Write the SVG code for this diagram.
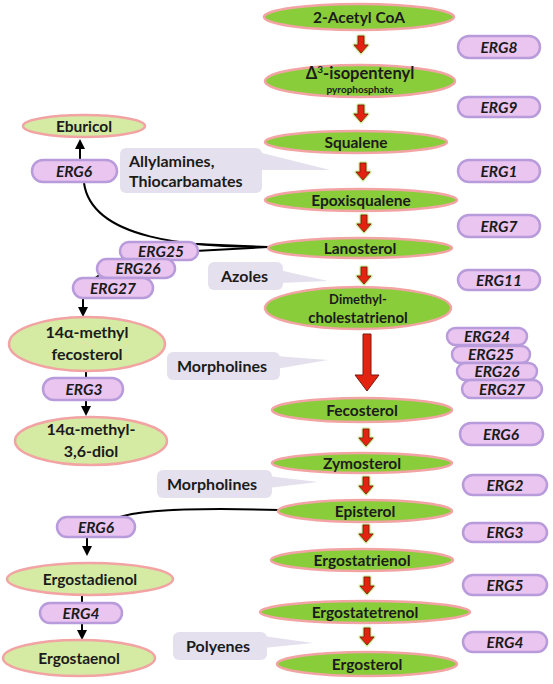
<svg xmlns="http://www.w3.org/2000/svg" width="553" height="684" viewBox="0 0 553 684">
<defs>
<style>
.main{fill:#8acd3a;stroke:#f2a3a3;stroke-width:2.5}
.side{fill:#d5eaa2;stroke:#f2a3a3;stroke-width:2.5}
.pill{fill:#eac5ef;stroke:#b89bdb;stroke-width:2.5}
.call{fill:#e5e0ed}
.t{font-family:Lato,"Open Sans","Liberation Sans",sans-serif;font-weight:bold;fill:#1b1b1b;text-anchor:middle}
.e{font-family:Lato,"Open Sans","Liberation Sans",sans-serif;font-weight:bold;font-style:italic;fill:#1b1b1b;text-anchor:middle;font-size:15.5px}
.c{font-family:Lato,"Open Sans","Liberation Sans",sans-serif;font-weight:bold;fill:#1b1b1b;font-size:16px}
.ln{fill:none;stroke:#000;stroke-width:2}
</style>
<marker id="ah" viewBox="0 0 10 10" refX="8" refY="5" markerWidth="5" markerHeight="5" orient="auto">
<path d="M0,0 L10,5 L0,10 z" fill="#000"/>
</marker>
<g id="ra">
<path d="M-3,0 L3,0 L3,9 L7,9 L0,17 L-7,9 L-3,9 z" fill="#b9e07a" stroke="#c8e890" stroke-width="3" stroke-linejoin="round"/>
<path d="M-3,0 L3,0 L3,9 L7,9 L0,17 L-7,9 L-3,9 z" fill="#e3220f" stroke="#7a1a10" stroke-width="0.8"/>
</g>
</defs>

<g id="callouts">
<g id="c-allyl"><rect class="call" x="120" y="148" width="142" height="45" rx="6"/><polygon class="call" points="258,152 330,170 258,170"/>
<text class="c" x="129" y="167">Allylamines,</text><text class="c" x="129" y="187">Thiocarbamates</text></g>
<g id="c-azoles"><rect class="call" x="208" y="262" width="75" height="28" rx="6"/><polygon class="call" points="279,270 328,281 279,283"/>
<text class="c" x="221" y="282">Azoles</text></g>
<g id="c-morph1"><rect class="call" x="167" y="352" width="113" height="28" rx="6"/><polygon class="call" points="276,356 328,360 276,369"/>
<text class="c" x="177" y="372">Morpholines</text></g>
<g id="c-morph2"><rect class="call" x="157" y="470" width="115" height="28" rx="6"/><polygon class="call" points="268,476 318,482 268,488"/>
<text class="c" x="167" y="490">Morpholines</text></g>
<g id="c-poly"><rect class="call" x="173" y="632" width="94" height="28" rx="6"/><polygon class="call" points="263,636 313,643 263,648"/>
<text class="c" x="186" y="652">Polyenes</text></g>
</g>

<g id="connectors">
<path class="ln" d="M268,247 C190,247 92,240 84,183"/>
<path class="ln" d="M268,247 L195,244"/>
<path class="ln" d="M268,247 L195,251"/>
<path class="ln" d="M125,256 L90,282"/>
<path class="ln" d="M80,160 L80,141" marker-end="url(#ah)"/>
<path class="ln" d="M83,296 L83,315" marker-end="url(#ah)"/>
<path class="ln" d="M86,372 L86,380"/>
<path class="ln" d="M86,399 L86,414" marker-end="url(#ah)"/>
<path class="ln" d="M279,510 C210,508 140,509 117,518"/>
<path class="ln" d="M87,536 L87,554" marker-end="url(#ah)"/>
<path class="ln" d="M82,595 L82,604"/>
<path class="ln" d="M82,622 L82,638" marker-end="url(#ah)"/>
<use href="#ra" x="361" y="36"/>
<use href="#ra" x="361" y="105"/>
<use href="#ra" x="363" y="163"/>
<use href="#ra" x="364" y="215"/>
<use href="#ra" x="364" y="267"/>
<path d="M363,334 L371,334 L371,375 L379,375 L367,391 L355,375 L363,375 z" fill="#e3220f" stroke="#7a1a10" stroke-width="1"/>
<use href="#ra" x="366" y="429"/>
<use href="#ra" x="366" y="477"/>
<use href="#ra" x="366" y="525"/>
<use href="#ra" x="367" y="577"/>
<use href="#ra" x="367" y="628"/>
</g>

<g id="n-acetyl"><ellipse class="main" cx="359" cy="17" rx="95" ry="13"/><text class="t" x="359" y="22.5" font-size="15.5">2-Acetyl CoA</text></g>
<g id="n-ipp"><ellipse class="main" cx="360" cy="81" rx="95" ry="16"/><text class="t" x="360" y="78.5" font-size="16.5">Δ<tspan font-size="10" dy="-6">3</tspan><tspan dy="6">-isopentenyl</tspan></text><text class="t" x="360" y="93" font-size="10">pyrophosphate</text></g>
<g id="n-squalene"><ellipse class="main" cx="356" cy="142" rx="91" ry="11"/><text class="t" x="356" y="147.5" font-size="15.5">Squalene</text></g>
<g id="n-epoxi"><ellipse class="main" cx="361" cy="200" rx="96" ry="11"/><text class="t" x="361" y="205.5" font-size="15.5">Epoxisqualene</text></g>
<g id="n-lano"><ellipse class="main" cx="360" cy="248" rx="92" ry="10"/><text class="t" x="360" y="253.5" font-size="15.5">Lanosterol</text></g>
<g id="n-dimethyl"><ellipse class="main" cx="358" cy="308" rx="93" ry="21"/><text class="t" x="358" y="304" font-size="13">Dimethyl-</text><text class="t" x="358" y="323" font-size="15">cholestatrienol</text></g>
<g id="n-feco"><ellipse class="main" cx="362" cy="410" rx="90" ry="12"/><text class="t" x="362" y="415.5" font-size="15.5">Fecosterol</text></g>
<g id="n-zymo"><ellipse class="main" cx="362" cy="463" rx="90" ry="10"/><text class="t" x="362" y="468.5" font-size="15.5">Zymosterol</text></g>
<g id="n-epi"><ellipse class="main" cx="365" cy="511" rx="87" ry="11"/><text class="t" x="365" y="516.5" font-size="15.5">Episterol</text></g>
<g id="n-ergtri"><ellipse class="main" cx="362" cy="560" rx="91" ry="11"/><text class="t" x="362" y="565.5" font-size="15.5">Ergostatrienol</text></g>
<g id="n-ergtetra"><ellipse class="main" cx="365" cy="612" rx="105" ry="11"/><text class="t" x="365" y="617.5" font-size="15.5">Ergostatetrenol</text></g>
<g id="n-ergosterol"><ellipse class="main" cx="367" cy="664" rx="90" ry="12"/><text class="t" x="367" y="669.5" font-size="15.5">Ergosterol</text></g>

<g id="n-eburicol"><ellipse class="side" cx="84" cy="126" rx="61" ry="11"/><text class="t" x="84" y="131.5" font-size="15.5">Eburicol</text></g>
<g id="n-14mf"><ellipse class="side" cx="87" cy="344" rx="78" ry="27"/><text class="t" x="87" y="338" font-size="16">14α-methyl</text><text class="t" x="87" y="360" font-size="16">fecosterol</text></g>
<g id="n-14md"><ellipse class="side" cx="91" cy="441" rx="76" ry="24"/><text class="t" x="91" y="435" font-size="16">14α-methyl-</text><text class="t" x="91" y="457" font-size="16">3,6-diol</text></g>
<g id="n-ergdien"><ellipse class="side" cx="90" cy="579" rx="83" ry="16"/><text class="t" x="90" y="584.5" font-size="15.5">Ergostadienol</text></g>
<g id="n-ergaen"><ellipse class="side" cx="79" cy="658" rx="76" ry="18"/><text class="t" x="79" y="663.5" font-size="15.5">Ergostaenol</text></g>

<g id="p-l-erg6a"><rect class="pill" x="32" y="160" width="85" height="22" rx="11"/><text class="e" x="74" y="176.5">ERG6</text></g>
<g id="p-l-erg25"><rect class="pill" x="120" y="242" width="78" height="18" rx="9"/><text class="e" x="161" y="256.5">ERG25</text></g>
<g id="p-l-erg26"><rect class="pill" x="97" y="259" width="78" height="19" rx="9.5"/><text class="e" x="138" y="274">ERG26</text></g>
<g id="p-l-erg27"><rect class="pill" x="73" y="278" width="80" height="20" rx="10"/><text class="e" x="113" y="293.5">ERG27</text></g>
<g id="p-l-erg3"><rect class="pill" x="43" y="378" width="80" height="22" rx="11"/><text class="e" x="84" y="394.5">ERG3</text></g>
<g id="p-l-erg6b"><rect class="pill" x="57" y="517" width="78" height="20" rx="10"/><text class="e" x="96" y="532.5">ERG6</text></g>
<g id="p-l-erg4"><rect class="pill" x="40" y="603" width="82" height="20" rx="10"/><text class="e" x="81" y="618.5">ERG4</text></g>

<g id="p-erg8"><rect class="pill" x="458" y="36" width="82" height="22" rx="11"/><text class="e" x="499" y="52.5">ERG8</text></g>
<g id="p-erg9"><rect class="pill" x="458" y="97" width="82" height="20" rx="10"/><text class="e" x="499" y="112.5">ERG9</text></g>
<g id="p-erg1"><rect class="pill" x="458" y="160" width="82" height="22" rx="11"/><text class="e" x="499" y="176.5">ERG1</text></g>
<g id="p-erg7"><rect class="pill" x="458" y="215" width="82" height="22" rx="11"/><text class="e" x="499" y="231.5">ERG7</text></g>
<g id="p-erg11"><rect class="pill" x="458" y="270" width="82" height="20" rx="10"/><text class="e" x="499" y="285.5">ERG11</text></g>
<g id="p-erg24"><rect class="pill" x="447" y="328" width="80" height="17" rx="8.5"/><text class="e" x="487" y="342">ERG24</text></g>
<g id="p-erg25"><rect class="pill" x="452" y="346" width="78" height="17" rx="8.5"/><text class="e" x="491" y="360">ERG25</text></g>
<g id="p-erg26"><rect class="pill" x="457" y="363" width="80" height="17" rx="8.5"/><text class="e" x="497" y="377">ERG26</text></g>
<g id="p-erg27"><rect class="pill" x="462" y="380" width="80" height="18" rx="9"/><text class="e" x="502" y="394.5">ERG27</text></g>
<g id="p-erg6"><rect class="pill" x="460" y="423" width="83" height="22" rx="11"/><text class="e" x="501" y="439.5">ERG6</text></g>
<g id="p-erg2"><rect class="pill" x="463" y="475" width="84" height="20" rx="10"/><text class="e" x="505" y="490.5">ERG2</text></g>
<g id="p-erg3"><rect class="pill" x="463" y="523" width="84" height="19" rx="9.5"/><text class="e" x="505" y="538">ERG3</text></g>
<g id="p-erg5"><rect class="pill" x="463" y="575" width="84" height="20" rx="10"/><text class="e" x="505" y="590.5">ERG5</text></g>
<g id="p-erg4"><rect class="pill" x="463" y="632" width="84" height="20" rx="10"/><text class="e" x="505" y="647.5">ERG4</text></g>
</svg>
